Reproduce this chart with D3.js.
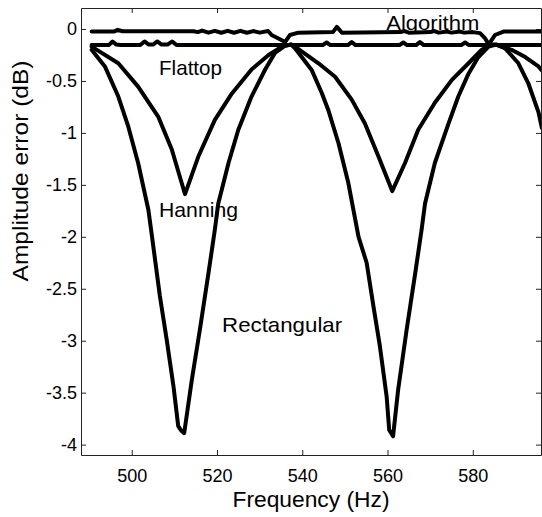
<!DOCTYPE html>
<html>
<head>
<meta charset="utf-8">
<script src="https://cdn.jsdelivr.net/npm/d3@7"></script>
<style>
  html, body { margin: 0; padding: 0; background: #fff; }
  svg { display: block; }
  text { font-family: Arial, "Liberation Sans", Helvetica, sans-serif; fill: #000; }
</style>
</head>
<body>
<svg id="chart" width="542" height="517"></svg>
<script>
// ---- data ----
const xTicks = [500, 520, 540, 560, 580];
const yTicks = [0, -0.5, -1, -1.5, -2, -2.5, -3, -3.5, -4];
const yTickLabels = ["0", "-0.5", "-1", "-1.5", "-2", "-2.5", "-3", "-3.5", "-4"];

const rectangular = [
  [490.6,-0.20],[493.7,-0.36],[496.85,-0.65],[499.2,-0.94],[501.5,-1.29],[503.9,-1.74],
  [504.7,-1.98],[506.6,-2.57],[508.2,-2.99],[509.8,-3.44],[510.9,-3.82],[511.5,-3.86],
  [512.3,-3.89],[514.1,-3.375],[516.0,-2.89],[518.0,-2.35],[519.5,-1.93],[520.3,-1.68],
  [522.7,-1.29],[525.0,-0.97],[528.1,-0.65],[531.3,-0.39],[533.6,-0.23],[536.0,-0.16],
  [537.4,-0.15],[538.3,-0.186],[542.2,-0.394],[544.6,-0.618],[546.1,-0.779],[548.5,-1.10],
  [550.8,-1.48],[553.2,-2.0],[555.1,-2.25],[556.7,-2.67],[558.2,-3.05],[559.8,-3.54],
  [560.4,-3.86],[561.3,-3.92],[562.5,-3.47],[564.5,-2.89],[566.5,-2.35],[568.0,-1.93],
  [568.8,-1.68],[571.1,-1.29],[574.3,-0.91],[576.6,-0.65],[579.0,-0.43],[581.3,-0.27],
  [583.7,-0.17],[585.5,-0.15],[587.6,-0.186],[590.7,-0.33],[593.0,-0.52],[595.4,-0.80],
  [596.2,-0.95]
];

const hanning = [
  [490.6,-0.17],[496.85,-0.33],[501.5,-0.555],[506.2,-0.843],[509.4,-1.16],[512.5,-1.59],
  [515.6,-1.23],[519.5,-0.875],[523.5,-0.62],[528.1,-0.39],[532.1,-0.25],[535.2,-0.17],
  [537.4,-0.15],[538.3,-0.17],[543.8,-0.33],[547.7,-0.46],[551.6,-0.68],[554.7,-0.91],
  [557.9,-1.23],[561.1,-1.56],[564.1,-1.29],[567.2,-0.97],[571.1,-0.71],[575.1,-0.49],
  [579.0,-0.33],[582.1,-0.20],[584.5,-0.15],[585.5,-0.15],[589.1,-0.20],[592.3,-0.27],
  [595.4,-0.36],[596.2,-0.40]
];

const flattop = [
  [490.6,-0.155],[494.6,-0.155],[495.5,-0.12],[496.4,-0.15],[497.4,-0.155],[502.0,-0.155],
  [503.0,-0.12],[504.0,-0.15],[505.0,-0.15],[506.0,-0.12],[507.0,-0.15],[508.4,-0.15],
  [509.5,-0.12],[510.5,-0.155],[544.8,-0.155],[545.7,-0.13],[546.6,-0.155],[550.7,-0.155],
  [551.6,-0.125],[552.5,-0.155],[562.8,-0.155],[563.7,-0.13],[564.6,-0.155],[566.7,-0.155],
  [567.6,-0.125],[568.5,-0.155],[577.3,-0.155],[578.2,-0.13],[579.1,-0.155],[596.2,-0.155]
];

const algorithm = [
  [490.6,-0.025],[495.8,-0.025],[496.7,-0.008],[497.8,-0.022],[514.5,-0.022],[515.5,-0.03],
  [516.5,-0.015],[518.0,-0.035],[519.5,-0.018],[521.0,-0.036],[522.5,-0.018],[524.0,-0.036],
  [525.5,-0.018],[527.0,-0.036],[528.5,-0.02],[530.0,-0.035],[532.0,-0.02],[532.8,-0.058],
  [534.3,-0.09],[536.0,-0.125],[537.1,-0.058],[539.1,-0.035],[547.2,-0.03],[548.1,0.02],
  [549.3,-0.035],[563.0,-0.03],[564.0,-0.02],[565.0,-0.035],[570.0,-0.03],[571.0,-0.02],
  [572.0,-0.035],[574.0,-0.025],[575.0,-0.035],[577.0,-0.025],[578.0,-0.035],[580.0,-0.03],
  [581.7,-0.04],[582.9,-0.09],[583.7,-0.15],[585.2,-0.058],[587.2,-0.025],[596.2,-0.025]
];

const seriesNames = ["Algorithm", "Flattop", "Hanning", "Rectangular"];
const seriesData = [algorithm, flattop, hanning, rectangular];
// label anchor points in data coordinates
const labelPos = [[559.7, -0.01], [506.4, -0.445], [506.4, -1.805], [521.2, -2.92]];

// ---- layout ----
const svg = d3.select("#chart");
const mLeft = 81, mRight = 541, mTop = 8, mBottom = 455;
const x = d3.scaleLinear().domain([488.1, 596.0]).range([mLeft, mRight]);
const y = d3.scaleLinear().domain([-4.1, 0.202]).range([mBottom, mTop]);

svg.append("defs").append("clipPath").attr("id", "plotclip")
  .append("rect").attr("x", mLeft).attr("y", mTop)
  .attr("width", mRight - mLeft).attr("height", mBottom - mTop);

// axes
const axisColor = "#222";
function styleAxis(g) {
  g.selectAll("path.domain").attr("stroke", axisColor).attr("stroke-width", 1);
  g.selectAll(".tick line").attr("stroke", axisColor).attr("stroke-width", 1);
  g.selectAll("text").attr("font-size", 18).attr("fill", "#000")
    .attr("font-family", "Arial, 'Liberation Sans', sans-serif");
}

svg.append("g").attr("transform", `translate(0,${mBottom})`)
  .call(d3.axisBottom(x).tickValues(xTicks).tickSizeInner(-5).tickSizeOuter(0).tickPadding(14))
  .call(styleAxis);
svg.append("g").attr("transform", `translate(0,${mTop})`)
  .call(d3.axisTop(x).tickValues(xTicks).tickSizeInner(-5).tickSizeOuter(0).tickFormat(""))
  .call(styleAxis);
svg.append("g").attr("transform", `translate(${mLeft},0)`)
  .call(d3.axisLeft(y).tickValues(yTicks).tickSizeInner(-5).tickSizeOuter(0).tickPadding(4)
    .tickFormat((d, i) => yTickLabels[i]))
  .call(styleAxis);
svg.append("g").attr("transform", `translate(${mRight},0)`)
  .call(d3.axisRight(y).tickValues(yTicks).tickSizeInner(-5).tickSizeOuter(0).tickFormat(""))
  .call(styleAxis);

// curves
const line = d3.line().x(d => x(d[0])).y(d => y(d[1]));
svg.append("g").attr("clip-path", "url(#plotclip)")
  .selectAll("path.series").data(seriesData).join("path")
  .attr("class", "series")
  .attr("d", line)
  .attr("fill", "none")
  .attr("stroke", "#000")
  .attr("stroke-width", 4)
  .attr("stroke-linejoin", "round")
  .attr("stroke-linecap", "round");

// in-plot labels
const labelWidths = [93, 63, 79, 120];
svg.selectAll("text.lbl").data(seriesNames).join("text")
  .attr("class", "lbl")
  .attr("x", (d, i) => x(labelPos[i][0]))
  .attr("y", (d, i) => y(labelPos[i][1]))
  .attr("font-size", 21)
  .attr("textLength", (d, i) => labelWidths[i])
  .attr("lengthAdjust", "spacingAndGlyphs")
  .text(d => d);

// axis titles
svg.append("text")
  .attr("x", 311)
  .attr("y", 507)
  .attr("text-anchor", "middle")
  .attr("font-size", 22)
  .attr("textLength", 157)
  .attr("lengthAdjust", "spacingAndGlyphs")
  .text("Frequency (Hz)");
svg.append("text")
  .attr("transform", `translate(28,171) rotate(-90)`)
  .attr("text-anchor", "middle")
  .attr("font-size", 22)
  .attr("textLength", 221)
  .attr("lengthAdjust", "spacingAndGlyphs")
  .text("Amplitude error (dB)");
</script>
</body>
</html>
